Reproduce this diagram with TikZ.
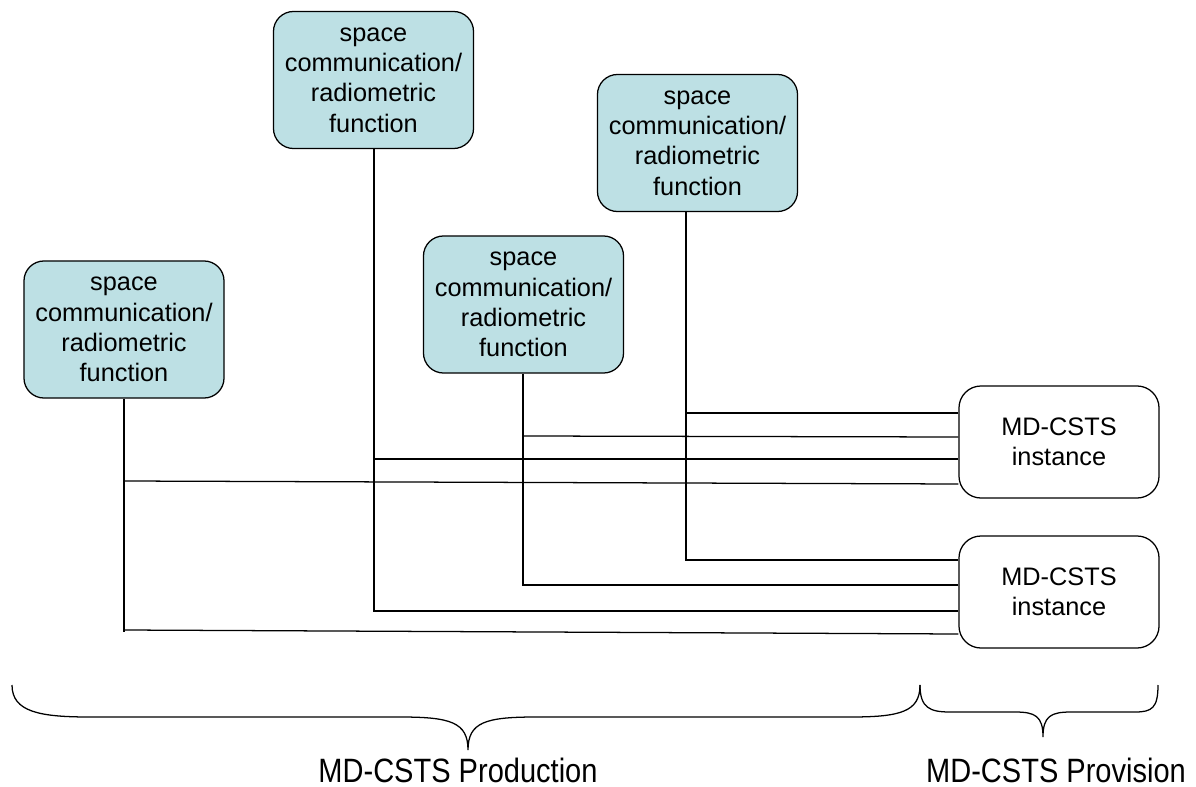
\documentclass[tikz,border=0pt]{standalone}
\usepackage{fontspec}
\setmainfont{Liberation Sans}
\usetikzlibrary{positioning, calc}

\definecolor{funcfill}{RGB}{189,224,228}

\begin{document}
\begin{tikzpicture}[x=0.025cm, y=-0.025cm, line width=0.9pt,
    funcbox/.style={draw, fill=funcfill, rounded corners=0.5cm, align=center,
        minimum width=5cm, minimum height=3.425cm, font=\fontsize{18}{21.5}\selectfont},
    instbox/.style={draw, fill=white, rounded corners=0.55cm, align=center,
        minimum width=5cm, minimum height=2.8cm, font=\fontsize{18}{21.5}\selectfont},
    bracelabel/.style={anchor=base, font=\fontsize{24}{28}\selectfont}]

    \useasboundingbox (0,0) rectangle (1196,787);

    \node[funcbox] (funcA) at (124, 329.5) {space\\communication/\\radiometric\\function};
    \node[funcbox] (funcB) at (373.5, 80) {space\\communication/\\radiometric\\function};
    \node[funcbox] (funcC) at (523.5, 304.5) {space\\communication/\\radiometric\\function};
    \node[funcbox] (funcD) at (697.5, 143) {space\\communication/\\radiometric\\function};

    \node[instbox] (inst1) at (1059, 442) {MD-CSTS\\instance};
    \node[instbox] (inst2) at (1059, 592) {MD-CSTS\\instance};

    \coordinate (tapA) at (124, 481);
    \coordinate (footA) at (124, 630);
    \coordinate (tapB) at (374, 459);
    \coordinate (tapC) at (523, 436);
    \coordinate (tapD) at (686, 413);

    \draw (funcA.south -| tapA) -- ($(footA)+(0,2)$);
    \draw (footA) -- (inst2.west |- 0,634);
    \draw (tapA) -- (inst1.west |- 0,484);
    \draw (funcB.south -| tapB) |- (inst2.west |- 0,611);
    \draw (tapB) -- (inst1.west |- 0,459);
    \draw (funcC.south -| tapC) |- (inst2.west |- 0,585);
    \draw (tapC) -- (inst1.west |- 0,437);
    \draw (funcD.south -| tapD) |- (inst2.west |- 0,560);
    \draw (tapD) -- (inst1.west |- 0,413);

    \draw (12,685) .. controls (12,712) and (40,717) .. (90,717) -- (400,717)
        .. controls (450,717) and (468,722) .. (468,750)
        .. controls (468,722) and (486,717) .. (536,717) -- (850,717)
        .. controls (900,717) and (920,712) .. (920,685);
    \draw (920,685) .. controls (920,708) and (930,712) .. (950,712) -- (1015,712)
        .. controls (1035,712) and (1043,716) .. (1043,737)
        .. controls (1043,716) and (1051,712) .. (1071,712) -- (1135,712)
        .. controls (1152,712) and (1158,708) .. (1158,685);

    \node[bracelabel] (production) at (458, 782) {\scalebox{0.86}[1]{MD-CSTS Production}};
    \node[bracelabel] (provision) at (1056, 782) {\scalebox{0.86}[1]{MD-CSTS Provision}};

\end{tikzpicture}
\end{document}
